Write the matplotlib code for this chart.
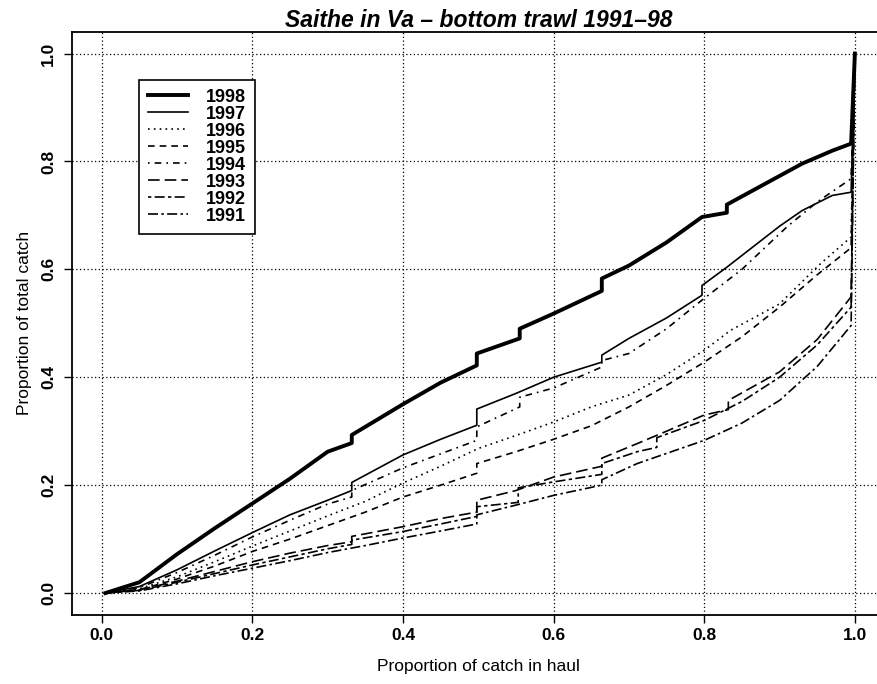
"""Cumulative catch proportion curves, saithe in Va, bottom trawl 1991-98."""
import matplotlib
matplotlib.use("Agg")
import matplotlib.pyplot as plt

plt.rcParams["font.family"] = ["Liberation Sans", "DejaVu Sans"]

YEARS = ["1998", "1997", "1996", "1995", "1994", "1993", "1992", "1991"]

# (x, y); repeated x values are the visible steps
x_1998 = [0.005, 0.05, 0.1, 0.15, 0.2, 0.25, 0.3, 0.332, 0.332, 0.4, 0.45, 0.498, 0.498,
          0.555, 0.555, 0.6, 0.664, 0.664, 0.7, 0.75, 0.797, 0.83, 0.83, 0.93, 0.97, 0.995, 1.0]
y_1998 = [0.0, 0.02, 0.072, 0.12, 0.166, 0.212, 0.262, 0.278, 0.293, 0.35, 0.39, 0.422, 0.444,
          0.472, 0.49, 0.518, 0.56, 0.583, 0.607, 0.65, 0.697, 0.705, 0.72, 0.796, 0.82, 0.833, 1.0]

x_1997 = [0.005, 0.05, 0.1, 0.15, 0.2, 0.25, 0.3, 0.332, 0.332, 0.4, 0.45, 0.498, 0.498,
          0.55, 0.6, 0.664, 0.664, 0.7, 0.75, 0.797, 0.797, 0.83, 0.9, 0.93, 0.97, 0.995, 1.0]
y_1997 = [0.0, 0.012, 0.043, 0.078, 0.112, 0.145, 0.172, 0.19, 0.205, 0.256, 0.285, 0.311, 0.341,
          0.37, 0.40, 0.428, 0.441, 0.472, 0.51, 0.552, 0.57, 0.604, 0.68, 0.709, 0.737, 0.743, 1.0]

x_1996 = [0.005, 0.05, 0.1, 0.15, 0.2, 0.25, 0.3, 0.35, 0.4, 0.45, 0.5, 0.55, 0.6, 0.65,
          0.7, 0.75, 0.8, 0.835, 0.9, 0.954, 0.995, 1.0]
y_1996 = [0.0, 0.008, 0.03, 0.058, 0.087, 0.115, 0.143, 0.17, 0.204, 0.235, 0.268, 0.292,
          0.317, 0.345, 0.367, 0.405, 0.45, 0.487, 0.536, 0.61, 0.66, 1.0]

x_1995 = [0.005, 0.05, 0.1, 0.15, 0.2, 0.25, 0.3, 0.35, 0.4, 0.45, 0.498, 0.498, 0.55, 0.6,
          0.65, 0.7, 0.75, 0.8, 0.85, 0.9, 0.95, 0.995, 1.0]
y_1995 = [0.0, 0.006, 0.026, 0.05, 0.077, 0.1, 0.125, 0.15, 0.178, 0.2, 0.222, 0.24, 0.262,
          0.285, 0.31, 0.345, 0.385, 0.428, 0.475, 0.53, 0.59, 0.64, 1.0]

x_1994 = [0.005, 0.05, 0.1, 0.15, 0.2, 0.25, 0.3, 0.332, 0.332, 0.4, 0.45, 0.498, 0.498,
          0.555, 0.555, 0.6, 0.664, 0.664, 0.7, 0.75, 0.797, 0.85, 0.91, 0.95, 0.995, 1.0]
y_1994 = [0.0, 0.01, 0.038, 0.07, 0.104, 0.135, 0.165, 0.178, 0.19, 0.232, 0.258, 0.283, 0.308,
          0.345, 0.363, 0.38, 0.419, 0.431, 0.444, 0.49, 0.543, 0.6, 0.679, 0.725, 0.768, 1.0]

x_1993 = [0.005, 0.05, 0.1, 0.15, 0.2, 0.25, 0.3, 0.332, 0.332, 0.4, 0.45, 0.498, 0.498,
          0.55, 0.6, 0.664, 0.664, 0.711, 0.75, 0.8, 0.832, 0.832, 0.9, 0.95, 0.995, 1.0]
y_1993 = [0.0, 0.006, 0.022, 0.04, 0.058, 0.074, 0.088, 0.095, 0.105, 0.123, 0.138, 0.15, 0.172,
          0.19, 0.215, 0.235, 0.25, 0.277, 0.3, 0.33, 0.34, 0.357, 0.41, 0.47, 0.549, 1.0]

x_1992 = [0.005, 0.05, 0.1, 0.15, 0.2, 0.25, 0.3, 0.332, 0.332, 0.4, 0.45, 0.498, 0.498,
          0.553, 0.553, 0.6, 0.664, 0.664, 0.711, 0.737, 0.737, 0.8, 0.85, 0.9, 0.95, 0.995, 1.0]
y_1992 = [0.0, 0.005, 0.02, 0.036, 0.052, 0.067, 0.082, 0.09, 0.098, 0.114, 0.128, 0.142, 0.16,
          0.168, 0.195, 0.206, 0.22, 0.24, 0.262, 0.27, 0.288, 0.32, 0.355, 0.40, 0.46, 0.53, 1.0]

x_1991 = [0.005, 0.05, 0.1, 0.15, 0.2, 0.25, 0.3, 0.35, 0.4, 0.45, 0.498, 0.498, 0.55, 0.6,
          0.664, 0.664, 0.711, 0.8, 0.85, 0.9, 0.95, 0.995, 1.0]
y_1991 = [0.0, 0.004, 0.017, 0.032, 0.046, 0.06, 0.075, 0.088, 0.102, 0.115, 0.128, 0.145,
          0.163, 0.181, 0.2, 0.21, 0.24, 0.283, 0.315, 0.357, 0.42, 0.496, 1.0]

XS = [x_1998, x_1997, x_1996, x_1995, x_1994, x_1993, x_1992, x_1991]
YS = [y_1998, y_1997, y_1996, y_1995, y_1994, y_1993, y_1992, y_1991]

STYLES = [
    ("-", 2.8),
    ("-", 1.2),
    ((0, (1, 2.5)), 1.2),
    ((0, (4, 3)), 1.2),
    ((0, (1, 3, 4, 3)), 1.2),
    ((0, (7, 3)), 1.2),
    ((0, (2, 2, 6, 2)), 1.2),
    ((0, (6, 2, 1.5, 2)), 1.2),
]

W, H = 877, 684
fig = plt.figure(figsize=(W / 100, H / 100), dpi=100)
left, right, top, bottom = 71.6, 885, 32, 614.6
ax = fig.add_axes([left / W, 1 - bottom / H, (right - left) / W, (bottom - top) / H])

for yr, x, y, (ls, lw) in zip(YEARS, XS, YS, STYLES):
    ax.plot(x, y, color="black", linestyle=ls, linewidth=lw, label=yr)

ticks = [0.0, 0.2, 0.4, 0.6, 0.8, 1.0]
ax.set_xlim(-0.04, 1.04)
ax.set_ylim(-0.04, 1.04)
ax.set_xticks(ticks)
ax.set_yticks(ticks)
ax.set_xticklabels([f"{t:.1f}" for t in ticks], fontweight="bold", fontsize=12.5)
ax.set_yticklabels([f"{t:.1f}" for t in ticks], fontweight="bold", fontsize=12.5,
                   rotation=90, va="center")
ax.tick_params(axis="both", direction="out", length=6, width=1, color="black")
ax.tick_params(axis="x", pad=4)
ax.tick_params(axis="y", pad=5)
ax.grid(color="black", linestyle=(0, (1, 2)), linewidth=0.9)
for sp in ax.spines.values():
    sp.set_linewidth(1.3)
    sp.set_color("black")

ax.set_title("Saithe in Va \u2013 bottom trawl 1991\u201398", fontsize=16.5,
             style="italic", fontweight="bold", pad=2)
ax.set_xlabel("Proportion of catch in haul", fontsize=12.5, labelpad=11)
ax.set_ylabel("Proportion of total catch", fontsize=12.5, labelpad=7)

leg = ax.legend(loc="upper left", bbox_to_anchor=(0.083, 0.918),
                prop={"weight": "bold", "size": 13}, frameon=True, fancybox=False,
                edgecolor="black", framealpha=1, borderaxespad=0,
                handlelength=2.2, handletextpad=1.0, labelspacing=0.0,
                borderpad=0.5)
leg.get_frame().set_linewidth(1.2)

fig.savefig("out.png", dpi=100)
print("wrote out.png")
